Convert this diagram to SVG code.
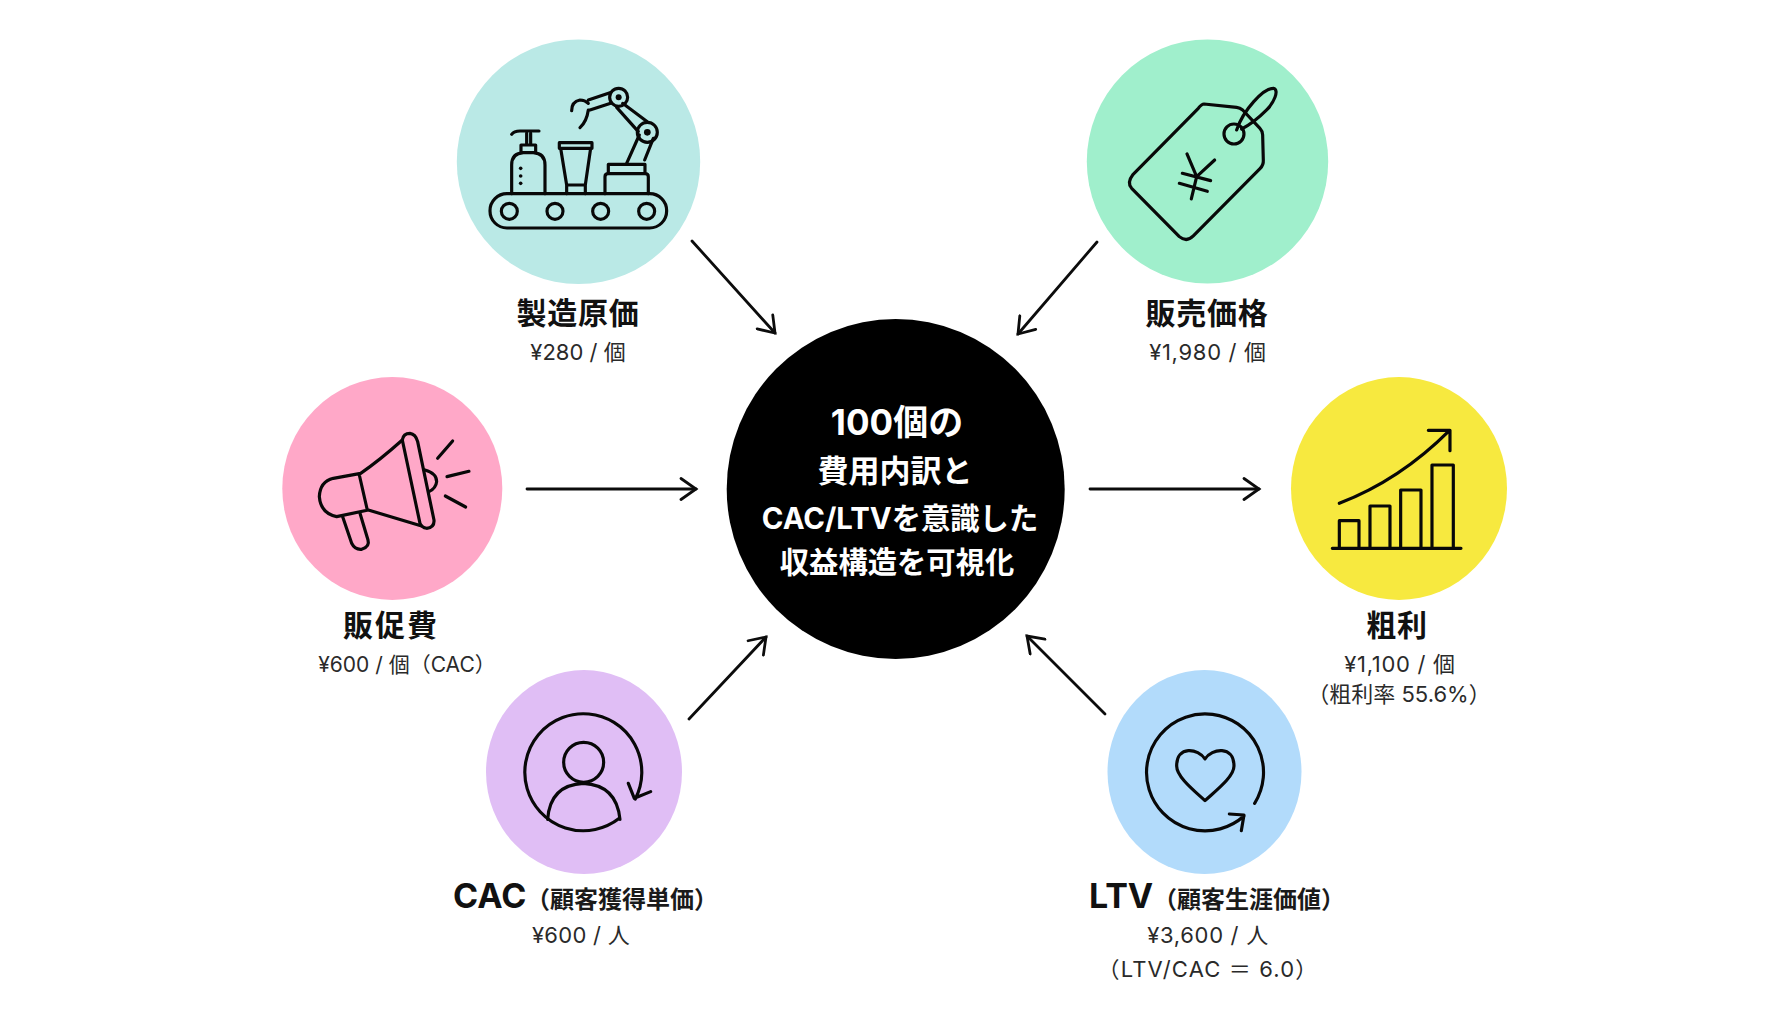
<svg xmlns="http://www.w3.org/2000/svg" width="1792" height="1024" viewBox="0 0 1792 1024">
<style>
text{font-family:Inter,"Noto Sans CJK JP","Noto Sans",sans-serif;text-anchor:middle}
.t{font-size:30px;font-weight:700;fill:#111;letter-spacing:.8px}
.s{font-size:22px;fill:#2a2a2a}
.w{letter-spacing:.7px}
.e{font-size:34px;font-weight:700;fill:#111;text-anchor:start}
.j{font-size:24px;font-weight:700;fill:#1a1a1a;text-anchor:start}
.c{font-size:31px;font-weight:700;fill:#fff}
.i{fill:none;stroke:#080808;stroke-width:9.500;stroke-linecap:round;stroke-linejoin:round}
.d{fill:#080808}
.a{fill:none;stroke:#0c0c0c;stroke-width:2.800;stroke-linecap:round;stroke-linejoin:miter}
</style>
<defs>
<marker id="h" viewBox="-20 -12 24 24" markerWidth="24" markerHeight="24" markerUnits="userSpaceOnUse" refX="0" refY="0" orient="auto"><path d="M-15 -10.500 L0 0 L-15 10.500" class="a"/></marker>
</defs>
<rect width="1792" height="1024" fill="#fff"/>
<g id="connectors">
<line class="a" x1="692" y1="241" x2="775" y2="333" marker-end="url(#h)"/>
<line class="a" x1="1097" y1="242" x2="1018" y2="334" marker-end="url(#h)"/>
<line class="a" x1="527" y1="489" x2="696" y2="489" marker-end="url(#h)"/>
<line class="a" x1="1090" y1="489" x2="1259" y2="489" marker-end="url(#h)"/>
<line class="a" x1="689" y1="719" x2="766" y2="637" marker-end="url(#h)"/>
<line class="a" x1="1105" y1="714" x2="1027" y2="636" marker-end="url(#h)"/>
</g>
<g id="center">
<ellipse cx="895.700" cy="489" rx="169" ry="170" fill="#000"/>
<text class="c" x="897" y="435" style="font-size:35px">100個の</text>
<text class="c" x="895" y="482">費用内訳と</text>
<text class="c" x="900" y="529" style="font-size:29.300px">CAC/LTVを意識した</text>
<text class="c" x="897" y="573" style="font-size:29.300px">収益構造を可視化</text>
</g>
<g id="node-cost">
<ellipse cx="578.500" cy="161.700" rx="121.700" ry="122.300" fill="#bae9e6"/>
<g transform="translate(440 20) scale(.3333)">
<rect class="i" x="150" y="521" width="530" height="103" rx="51"/>
<circle class="i" cx="208" cy="574" r="24"/><circle class="i" cx="345" cy="574" r="24"/><circle class="i" cx="482" cy="574" r="24"/><circle class="i" cx="620" cy="574" r="24"/>
<path class="i" d="M215 521V435Q215 400 250 398H280Q315 400 315 435V521M243 398V375H287V398M260 375V340M272 375V340M215 343Q222 333 240 333H297"/>
<circle class="d" cx="242" cy="445" r="5.500"/><circle class="d" cx="242" cy="468" r="5.500"/><circle class="d" cx="242" cy="490" r="5.500"/>
<path class="i" d="M358 368H456V385H358ZM362 385L380 495H436L452 385M380 495V521M436 495V521"/>
<path class="i" d="M495 521V470Q495 461 505 461H615Q625 461 625 470V521M505 461V433H615V461"/>
<path class="i" d="M560 430L598 345M614 420L640 355M548 250L622 305M530 262L595 335M510 218L445 240M512 250L450 270M395 272Q395 245 420 240Q435 240 445 250M420 323Q440 305 445 270"/>
<circle class="i" cx="622" cy="337" r="30"/><circle class="d" cx="622" cy="337" r="10"/>
<circle class="i" cx="536" cy="232" r="27"/><circle class="d" cx="536" cy="232" r="9"/>
</g>
<text class="t" x="578" y="324">製造原価</text>
<text class="s" x="578" y="360">¥280 / 個</text>
</g>
<g id="node-price">
<ellipse cx="1207.500" cy="161.500" rx="120.700" ry="122" fill="#a0efcc"/>
<g transform="translate(1060 20) scale(.3333)">
<path class="i" d="M432 252L530 262Q540 263 548 270L600 325Q607 332 608 345L610 420Q611 435 600 446L400 648Q380 668 358 650L215 505Q200 488 218 465L415 265Q425 252 432 252Z"/>
<circle class="i" cx="522" cy="342" r="30"/>
<path class="i" d="M530 330C550 270 610 205 640 205C660 210 640 250 620 270C600 290 570 315 545 327"/>
<path class="i" d="M381 402L410 470M464 420L410 470M410 470L394 537M367 460L452 482M358 490L442 514"/>
</g>
<text class="t" x="1207" y="324">販売価格</text>
<text class="s w" x="1208" y="360">¥1,980 / 個</text>
</g>
<g id="node-promo">
<ellipse cx="392.300" cy="488.500" rx="110" ry="111.500" fill="#ffa8c8"/>
<g transform="translate(270 370) scale(.3333)">
<path class="i" d="M218 440L245 520Q255 540 275 538Q300 530 294 510L270 430"/>
<path class="i" d="M272 310L190 325Q150 335 148 380Q152 430 200 440L295 420L455 468M272 310Q330 270 397 210M268 315L292 420"/>
<path class="i" d="M397 210Q400 190 420 190Q437 192 443 215L492 450Q494 472 470 475Q455 472 450 460Z"/>
<path class="i" d="M465 300Q500 310 500 335Q498 355 477 365M503 265L548 213M531 320L597 304M526 378L587 411"/>
</g>
<text class="t" x="391" y="636" style="letter-spacing:2px">販促費</text>
<text class="s" x="407" y="672" style="font-size:21px">¥600 / 個（CAC）</text>
</g>
<g id="node-profit">
<ellipse cx="1399" cy="488.500" rx="108" ry="111.500" fill="#f7e93f"/>
<g transform="translate(1280 370) scale(.3333)">
<path class="i" d="M178 530V452H237V530M270 530V408H330V530M362 530V360H423V530M456 530V285H520V530M157 535H543M178 400Q360 330 508 182M445 181H510V242"/>
</g>
<text class="t" x="1397" y="636">粗利</text>
<text class="s w" x="1400" y="672">¥1,100 / 個</text>
<text class="s" x="1399" y="702">（粗利率 55.6%）</text>
</g>
<g id="node-cac">
<ellipse cx="584" cy="772" rx="98" ry="102" fill="#e0bef5"/>
<g transform="translate(440 660) scale(.3333)">
<path class="i" d="M586 417A175.500 175.500 0 1 0 538 475M565 370L583 415L632 395"/>
<circle class="i" cx="431" cy="307" r="60"/>
<path class="i" d="M323 478Q330 375 430 370Q530 375 540 478"/>
</g>
<text class="e" x="453" y="908">CAC</text>
<text class="j" x="526" y="908">（顧客獲得単価）</text>
<text class="s" x="581" y="943" style="letter-spacing:.3px">¥600 / 人</text>
</g>
<g id="node-ltv">
<ellipse cx="1204.500" cy="772" rx="97" ry="102" fill="#b2dbfb"/>
<g transform="translate(1070 660) scale(.3333)">
<path class="i" d="M554 430A175.500 175.500 0 1 0 522 468M478 462L522 465L514 512"/>
<path class="i" d="M405 297C385 265 320 255 320 318C320 350 370 390 405 422C440 390 492 350 492 318C492 255 425 265 405 297Z"/>
</g>
<text class="e" x="1089" y="908">LTV</text>
<text class="j" x="1153" y="908">（顧客生涯価値）</text>
<text class="s w" x="1208" y="943">¥3,600 / 人</text>
<text class="s" x="1208" y="977" style="letter-spacing:1.150px">（LTV/CAC ＝ 6.0）</text>
</g>
</svg>
